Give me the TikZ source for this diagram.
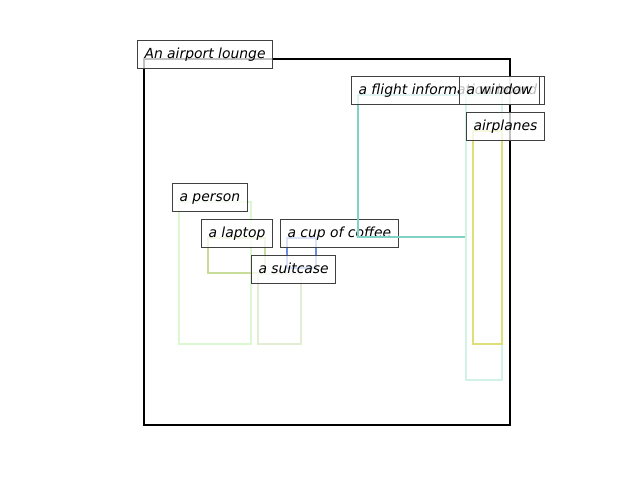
\documentclass[tikz,border=0pt]{standalone}
\usepackage{fontspec}
\setmainfont{DejaVu Sans}
\usetikzlibrary{positioning}

\definecolor{personc}{HTML}{DCF8D0}
\definecolor{laptopc}{HTML}{C8DC98}
\definecolor{cupc}{HTML}{6A8CE6}
\definecolor{suitcasec}{HTML}{E2EDD4}
\definecolor{flightc}{HTML}{80D2C4}
\definecolor{windowc}{HTML}{D2F2E8}
\definecolor{planec}{HTML}{DDE07A}

\begin{document}
\begin{tikzpicture}[x=1pt, y=-1pt,
  regionbox/.style={line width=2.7pt},
  tag/.style={draw=black!75, line width=1pt, fill=white, fill opacity=0.75,
    text opacity=1, anchor=north west, inner xsep=7pt, inner ysep=0pt,
    text height=10.5pt, text depth=3pt, minimum height=28pt,
    font=\fontsize{13.9}{16}\selectfont\itshape}]
  % Canvas size (pixels)
  \useasboundingbox (0,0) rectangle (640,480);

  % Regions: left/top/right/bottom/colour/name/label
  \foreach \bx/\by/\ex/\ey/\col/\name/\txt in {
      144/59/510/425/black/lounge/An airport lounge,
      179/202/251/344/personc/person/a person,
      208/238/265/273/laptopc/laptop/a laptop,
      287/238/316/268/cupc/cup/a cup of coffee,
      258/274/301/344/suitcasec/suitcase/a suitcase,
      358/95/466/237/flightc/flight/a flight information board,
      466/95/502/380/windowc/window/a window,
      473/131/502/344/planec/planes/airplanes} {
    \draw[regionbox, draw=\col] (\bx,\by) rectangle (\ex,\ey);
    % Label sits on the top-left corner of its region
    \node[tag] (\name) at (\bx-7,\by-19) {\txt};
  }
\end{tikzpicture}
\end{document}
